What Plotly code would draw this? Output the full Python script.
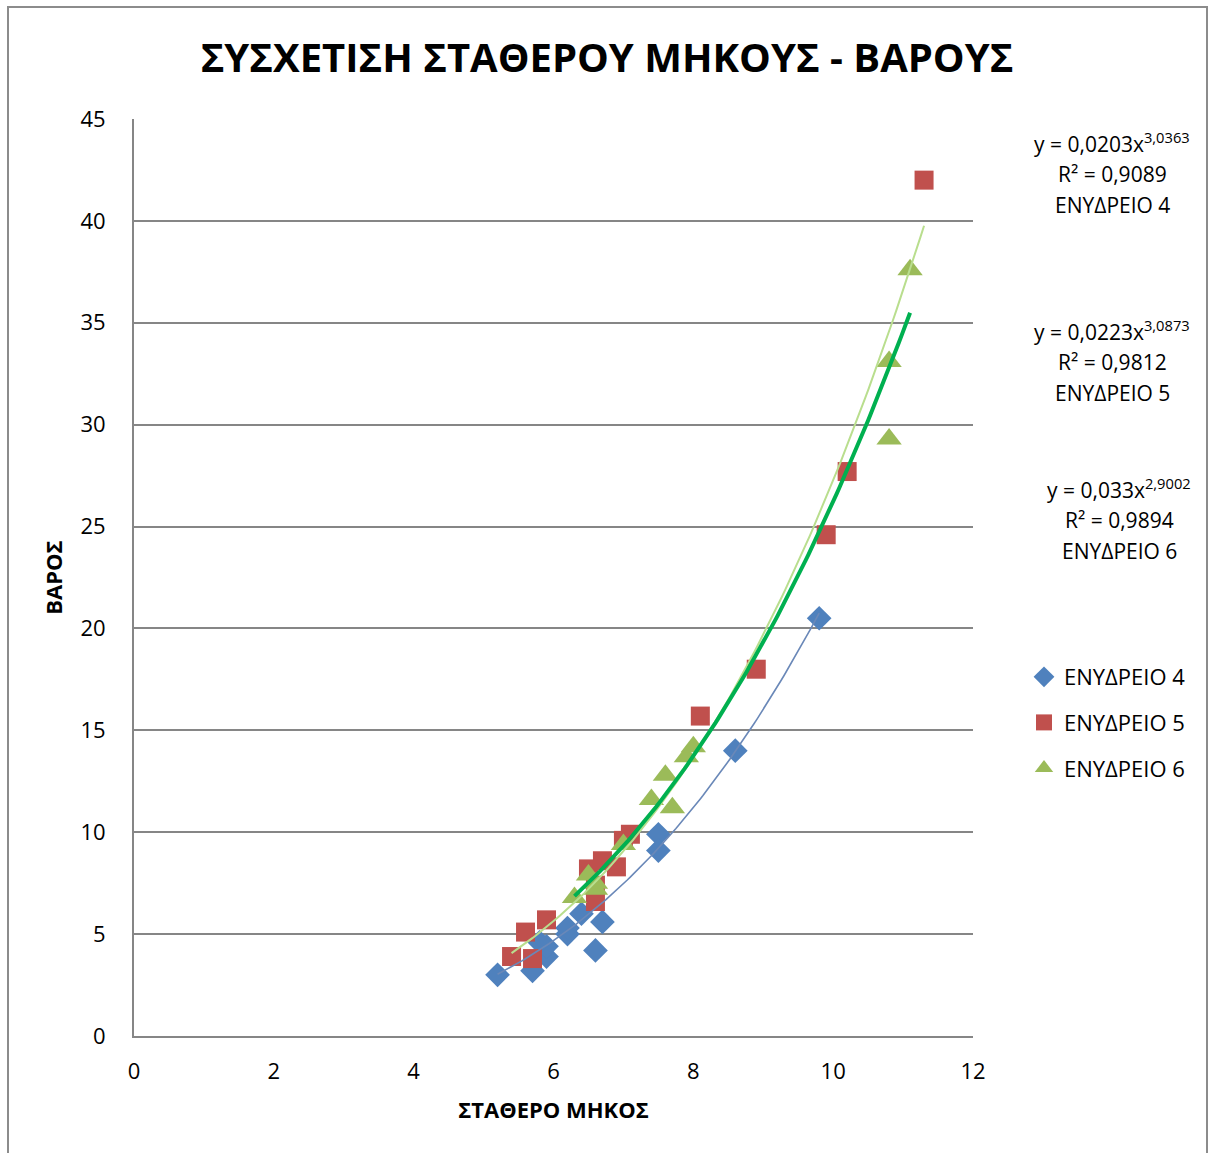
import numpy as np
import plotly.graph_objects as go

# --- data: standard length (x) vs weight (y) for three aquaria ---
names = ["ΕΝΥΔΡΕΙΟ 4", "ΕΝΥΔΡΕΙΟ 5", "ΕΝΥΔΡΕΙΟ 6"]

len_4 = [5.2, 5.7, 5.9, 5.9, 5.8, 6.2, 6.2, 6.4, 6.7, 6.6, 7.5, 7.5, 8.6, 9.8]
wt_4 = [3.0, 3.2, 3.9, 4.4, 4.6, 5.0, 5.3, 6.0, 5.6, 4.2, 9.9, 9.1, 14.0, 20.5]

len_5 = [5.4, 5.7, 5.6, 5.9, 6.6, 6.6, 6.5, 6.9, 6.7, 7.0, 7.1, 8.1, 8.9, 9.9, 10.2, 11.3]
wt_5 = [3.9, 3.8, 5.1, 5.7, 6.6, 7.4, 8.2, 8.3, 8.6, 9.6, 9.9, 15.7, 18.0, 24.6, 27.7, 42.0]

len_6 = [6.3, 6.6, 6.6, 6.5, 7.0, 7.4, 7.7, 7.6, 7.9, 8.0, 10.8, 10.8, 11.1]
wt_6 = [6.8, 7.2, 7.5, 7.9, 9.4, 11.6, 11.2, 12.8, 13.7, 14.2, 29.3, 33.1, 37.6]

# power-law trendlines y = a * x^b
coef_a = [0.0203, 0.0223, 0.033]
coef_b = [3.0363, 3.0873, 2.9002]
r_squared = ["0,9089", "0,9812", "0,9894"]
eq_a_text = ["0,0203", "0,0223", "0,033"]
eq_b_text = ["3,0363", "3,0873", "2,9002"]

x_ticks = [0, 2, 4, 6, 8, 10, 12]
y_ticks = [0, 5, 10, 15, 20, 25, 30, 35, 40, 45]

FONT = "Open Sans"
marker_colors = ["#4f81bd", "#c0504d", "#9bbb59"]
marker_symbols = ["diamond", "square", "triangle-up"]
marker_sizes = [19, 19, 22]
trend_colors = ["#6a88b8", "#b9de8e", "#00b050"]
trend_widths = [1.6, 2.0, 4.0]

series = [(len_4, wt_4), (len_5, wt_5), (len_6, wt_6)]

W, H = 1208, 1153
ML, MR, MT, MB = 134, 235, 119, 117
PW, PH = W - ML - MR, H - MT - MB


def px_x(px):
    return (px - ML) / PW


def px_y(py):
    return (H - MB - py) / PH


fig = go.Figure()

for i, (xs, ys) in enumerate(series):
    fig.add_trace(go.Scatter(
        x=xs, y=ys, mode="markers", name=names[i],
        legendgroup=names[i],
        marker=dict(symbol=marker_symbols[i], size=marker_sizes[i],
                    color=marker_colors[i], line=dict(width=0)),
    ))

for i, (xs, ys) in enumerate(series):
    xt = np.linspace(min(xs), max(xs), 120)
    yt = coef_a[i] * xt ** coef_b[i]
    fig.add_trace(go.Scatter(
        x=xt, y=yt, mode="lines", showlegend=False, hoverinfo="skip",
        line=dict(color=trend_colors[i], width=trend_widths[i]),
    ))

# equation labels on the right
eq_tops = [142, 330, 488]
eq_centers = [1112, 1112, 1119]
for i in range(3):
    lines = [
        f"y = {eq_a_text[i]}x<sup>{eq_b_text[i]}</sup>",
        f"R² = {r_squared[i]}",
        names[i],
    ]
    for k, txt in enumerate(lines):
        fig.add_annotation(
            x=px_x(eq_centers[i]), y=px_y(eq_tops[i] + 31.5 * k),
            xref="paper", yref="paper", xanchor="center", yanchor="middle",
            text=txt, showarrow=False,
            font=dict(family=FONT, size=21, color="#000000"),
        )

# outer chart border
fig.add_shape(type="rect", xref="paper", yref="paper",
              x0=px_x(8), x1=px_x(1207), y0=px_y(1170), y1=px_y(7),
              line=dict(color="#8c8c8c", width=2), fillcolor="rgba(0,0,0,0)",
              layer="below")

fig.update_layout(
    width=W, height=H,
    margin=dict(l=ML, r=MR, t=MT, b=MB),
    paper_bgcolor="white", plot_bgcolor="white",
    font=dict(family=FONT, size=21, color="#000000"),
    title=dict(text="<b>ΣΥΣΧΕΤΙΣΗ ΣΤΑΘΕΡΟΥ ΜΗΚΟΥΣ - ΒΑΡΟΥΣ</b>",
               x=607 / W, xanchor="center", y=1 - 58 / H, yanchor="middle",
               font=dict(family=FONT, size=40, color="#000000")),
    xaxis=dict(range=[0, 12], tickvals=x_ticks, showgrid=False, zeroline=False,
               showline=True, linecolor="#868686", linewidth=2,
               ticks="", ticklabelstandoff=15,
               tickfont=dict(family=FONT, size=22),
               title=dict(text="<b>ΣΤΑΘΕΡΟ ΜΗΚΟΣ</b>", standoff=18,
                          font=dict(family=FONT, size=22))),
    yaxis=dict(range=[0, 45], tickvals=y_ticks, showgrid=True,
               gridcolor="#868686", gridwidth=2, zeroline=False,
               showline=True, linecolor="#868686", linewidth=2,
               ticks="", ticklabelstandoff=22,
               tickfont=dict(family=FONT, size=22),
               title=dict(text="<b>ΒΑΡΟΣ</b>", standoff=12,
                          font=dict(family=FONT, size=22))),
    legend=dict(x=px_x(1024), xanchor="left",
                y=px_y(656), yanchor="top",
                traceorder="grouped", tracegroupgap=14,
                font=dict(family=FONT, size=22),
                itemwidth=30, bgcolor="rgba(0,0,0,0)"),
    showlegend=True,
)

fig.write_html("out.html")
